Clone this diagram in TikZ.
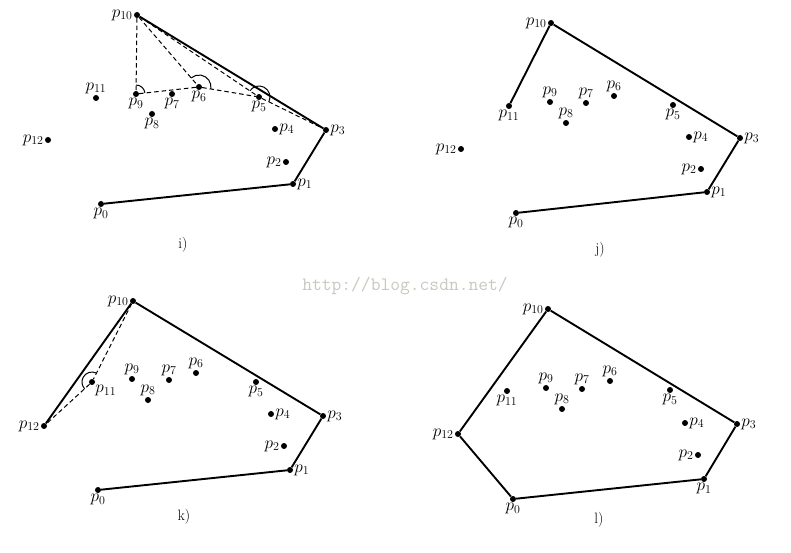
\documentclass[tikz,border=0pt]{standalone}
\usetikzlibrary{angles}
\definecolor{markgray}{RGB}{200,200,190}
\tikzset{
  pt/.style={circle,fill,inner sep=0pt,minimum size=6pt},
  hull/.style={line width=1.9pt},
  probe/.style={line width=1pt, dash pattern=on 4.5pt off 3pt},
  turn/.style={draw, line width=1pt, angle radius=10pt},
  every label/.style={font=\fontsize{17}{19}\selectfont, inner sep=1pt},
  caption/.style={font=\fontsize{15}{17}\selectfont}
}

\begin{document}
\begin{tikzpicture}[x=1pt,y=-1pt]
  \useasboundingbox (0,0) rectangle (791,553);
  % i) points
  \foreach \n/\x/\y/\pos in {0/101/204/below, 1/293/184/right, 2/286/162/left,
      3/326/130/right, 4/275/129/right, 5/259/97/below, 6/199/87/below,
      7/172/94/below, 8/152/114/below, 9/136/94/below, 10/137/15/left,
      11/96/98/above, 12/48/140/left}
    \node[pt, label=\pos:{$p_{\n}$}] (i\n) at (\x,\y) {};
  \draw[hull] (i0) -- (i1) -- (i3) -- (i10);
  \draw[probe] (i10) -- (i9) -- (i6) -- (i5) -- (i3);
  \draw[probe] (i10) -- (i6);
  \draw[probe] (i10) -- (i5);
  \pic[turn, angle radius=9pt] {angle = i6--i9--i10};
  \pic[turn, angle radius=12pt] {angle = i5--i6--i10};
  \pic[turn, angle radius=11pt] {angle = i3--i5--i10};
  \node[caption] (capi) at (183,245) {i)};

  % j) points
  \foreach \n/\x/\y/\pos in {0/516/213/below, 1/707/192/right, 2/701/169/left,
      3/740/138/right, 4/689/137/right, 5/673/105/below, 6/614/96/above,
      7/586/103/above, 8/566/123/above, 9/550/102/above, 10/551/23/left,
      11/509/106/below, 12/461/149/left}
    \node[pt, label=\pos:{$p_{\n}$}] (j\n) at (\x,\y) {};
  \draw[hull] (j0) -- (j1) -- (j3) -- (j10) -- (j11);
  \node[caption] (capj) at (600,250) {j)};

  % k) points
  \foreach \n/\x/\y/\pos in {0/98/490/below, 1/290/470/right, 2/284/446/left,
      3/323/416/right, 4/271/414/right, 5/256/382/below, 6/196/373/above,
      7/169/380/above, 8/148/400/above, 9/132/379/above, 10/133/301/left,
      11/92/382/below right, 12/44/426/left}
    \node[pt, label=\pos:{$p_{\n}$}] (k\n) at (\x,\y) {};
  \draw[hull] (k0) -- (k1) -- (k3) -- (k10) -- (k12);
  \draw[probe] (k10) -- (k11) -- (k12);
  \pic[turn] {angle = k10--k11--k12};
  \node[caption] (capk) at (184,517) {k)};

  % l) points
  \foreach \n/\x/\y/\pos in {0/513/499/below, 1/704/479/below, 2/698/455/left,
      3/737/424/right, 4/685/423/right, 5/670/390/below, 6/610/381/above,
      7/582/389/above, 8/562/409/above, 9/546/388/above, 10/548/309/left,
      11/507/391/below, 12/458/434/left}
    \node[pt, label=\pos:{$p_{\n}$}] (l\n) at (\x,\y) {};
  \draw[hull] (l0) -- (l1) -- (l3) -- (l10) -- (l12) -- (l0);
  \node[caption] (capl) at (599,520) {l)};

  \node[font=\ttfamily\fontsize{19}{19}\selectfont, text=markgray] (wm) at (405,286) {http://blog.csdn.net/};
\end{tikzpicture}
\end{document}
